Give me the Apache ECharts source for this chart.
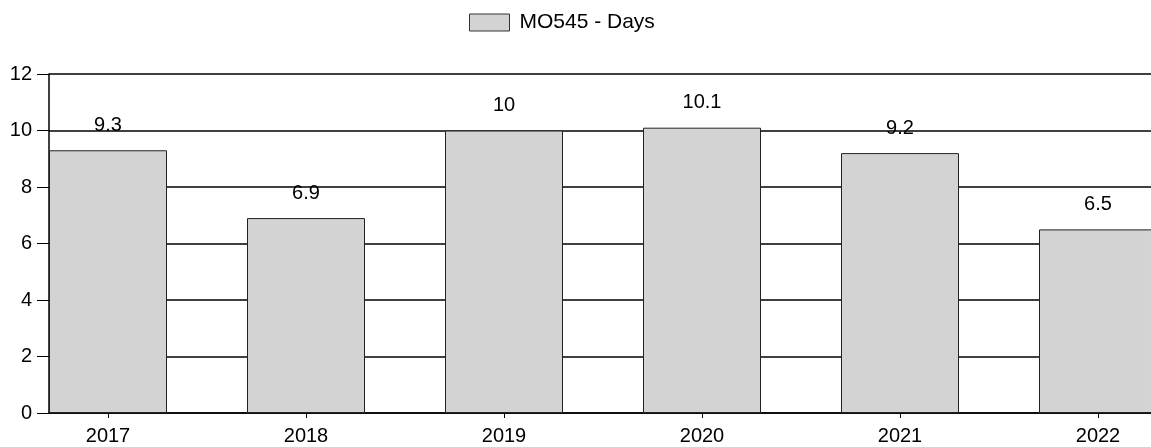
<!DOCTYPE html>
<html><head><meta charset="utf-8">
<script src="https://cdn.jsdelivr.net/npm/echarts@6/dist/echarts.min.js"></script>
<style>html,body{margin:0;padding:0;background:#fff}#c{width:1151px;height:447px}</style>
</head><body><div id="c"></div>
<script>
const categories = ['2017','2018','2019','2020','2021','2022'];
const days = [9.3, 6.9, 10, 10.1, 9.2, 6.5];
const seriesName = 'MO545 - Days';

const chart = echarts.init(document.getElementById('c'), null, {renderer:'canvas'});
const font = 'Liberation Sans, Arial, sans-serif';
chart.setOption({
  animation:false,
  textStyle:{fontFamily:font},
  legend:{left:464, top:7, itemWidth:40, itemHeight:17, itemGap:10, icon:'rect',
    textStyle:{fontSize:21, color:'#000', fontFamily:font, padding:[0,0,0,5]},
    itemStyle:{borderColor:'#333', borderWidth:1},
    data:[seriesName]},
  grid:[
    {left:49, right:0, top:74, bottom:34, outerBoundsMode:'none', containLabel:false},
    {left:9, width:1188, top:74, bottom:34, outerBoundsMode:'none', containLabel:false}
  ],
  xAxis:[
    {gridIndex:0, type:'value', min:0, max:1,
     axisLine:{show:true, lineStyle:{color:'#000', width:1.5}},
     axisTick:{show:false}, axisLabel:{show:false}, splitLine:{show:false}},
    {gridIndex:1, type:'category', data:categories,
     axisLine:{show:false},
     axisTick:{show:true, alignWithLabel:true, length:5, lineStyle:{color:'#000'}},
     axisLabel:{fontSize:20, color:'#000', margin:13, fontFamily:font}}
  ],
  yAxis:[
    {gridIndex:0, type:'value', min:0, max:12, interval:2,
     axisLine:{show:true, lineStyle:{color:'#000', width:1.5}},
     axisTick:{show:true, length:12, lineStyle:{color:'#000'}},
     axisLabel:{fontSize:20, color:'#000', margin:17, fontFamily:font},
     splitLine:{show:true, lineStyle:{color:'#000', width:1.5}}},
    {gridIndex:1, type:'value', min:0, max:12, interval:2, show:false, splitLine:{show:false}}
  ],
  series:[{
    name:seriesName, type:'bar', xAxisIndex:1, yAxisIndex:1,
    data:days, barWidth:118,
    itemStyle:{color:'#d3d3d3', borderColor:'#222', borderWidth:1},
    label:{show:true, position:'top', distance:15, fontSize:20, color:'#000', fontFamily:font}
  }]
});
</script></body></html>
